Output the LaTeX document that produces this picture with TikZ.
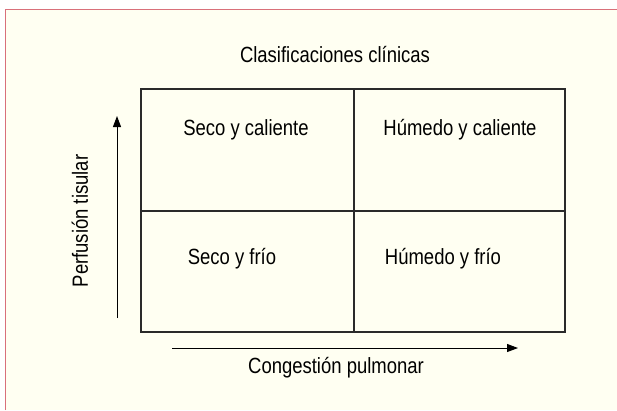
\documentclass[tikz,border=0pt]{standalone}
\usepackage{fontspec}
\setmainfont{Liberation Sans}[FakeStretch=0.84]
\usetikzlibrary{arrows.meta}
\definecolor{cream}{HTML}{FFFFF2}
\definecolor{framered}{HTML}{D9707A}
\definecolor{linegray}{HTML}{2A2A2A}
\tikzset{
  lbl/.style={font=\fontsize{22}{26}\selectfont, text=black, inner sep=0pt},
  cell/.style={draw=linegray, line width=1.3pt},
  axis/.style={draw=black, line width=1pt, -{Triangle[length=11pt,width=8pt]}}
}
\begin{document}
\begin{tikzpicture}[x=1pt,y=-1pt]
\useasboundingbox (0,0) rectangle (617,410);
\fill[white] (0,0) rectangle (617,410);
\fill[cream] (5.5,9.5) rectangle (617,410);
\draw[framered, line width=1.8pt] (5.5,410) -- (5.5,9.5) -- (617,9.5);
% grid
\coordinate (tl) at (141,89);
\coordinate (br) at (565,332);
\coordinate (mt) at (354,89);
\coordinate (mb) at (354,332);
\coordinate (ml) at (141,211);
\coordinate (mr) at (565,211);
\draw[cell] (tl) rectangle (br);
\draw[cell] (mt) -- (mb);
\draw[cell] (ml) -- (mr);
% texts
\node[lbl] (title) at (335,55) {Clasificaciones clínicas};
\node[lbl] (sc) at (246,130) {Seco y caliente};
\node[lbl] (hc) at (460,130) {Húmedo y caliente};
\node[lbl] (sf) at (232,259) {Seco y frío};
\node[lbl] (hf) at (443,259) {Húmedo y frío};
\node[lbl, rotate=90] (pt) at (80,221) {Perfusión tisular};
\node[lbl] (cp) at (336,368) {Congestión pulmonar};
% axes
\coordinate (ya) at (117,318);
\coordinate (yb) at (117,116);
\coordinate (xa) at (172,348);
\coordinate (xb) at (518,348);
\draw[axis] (ya) -- (yb);
\draw[axis] (xa) -- (xb);
\end{tikzpicture}
\end{document}
